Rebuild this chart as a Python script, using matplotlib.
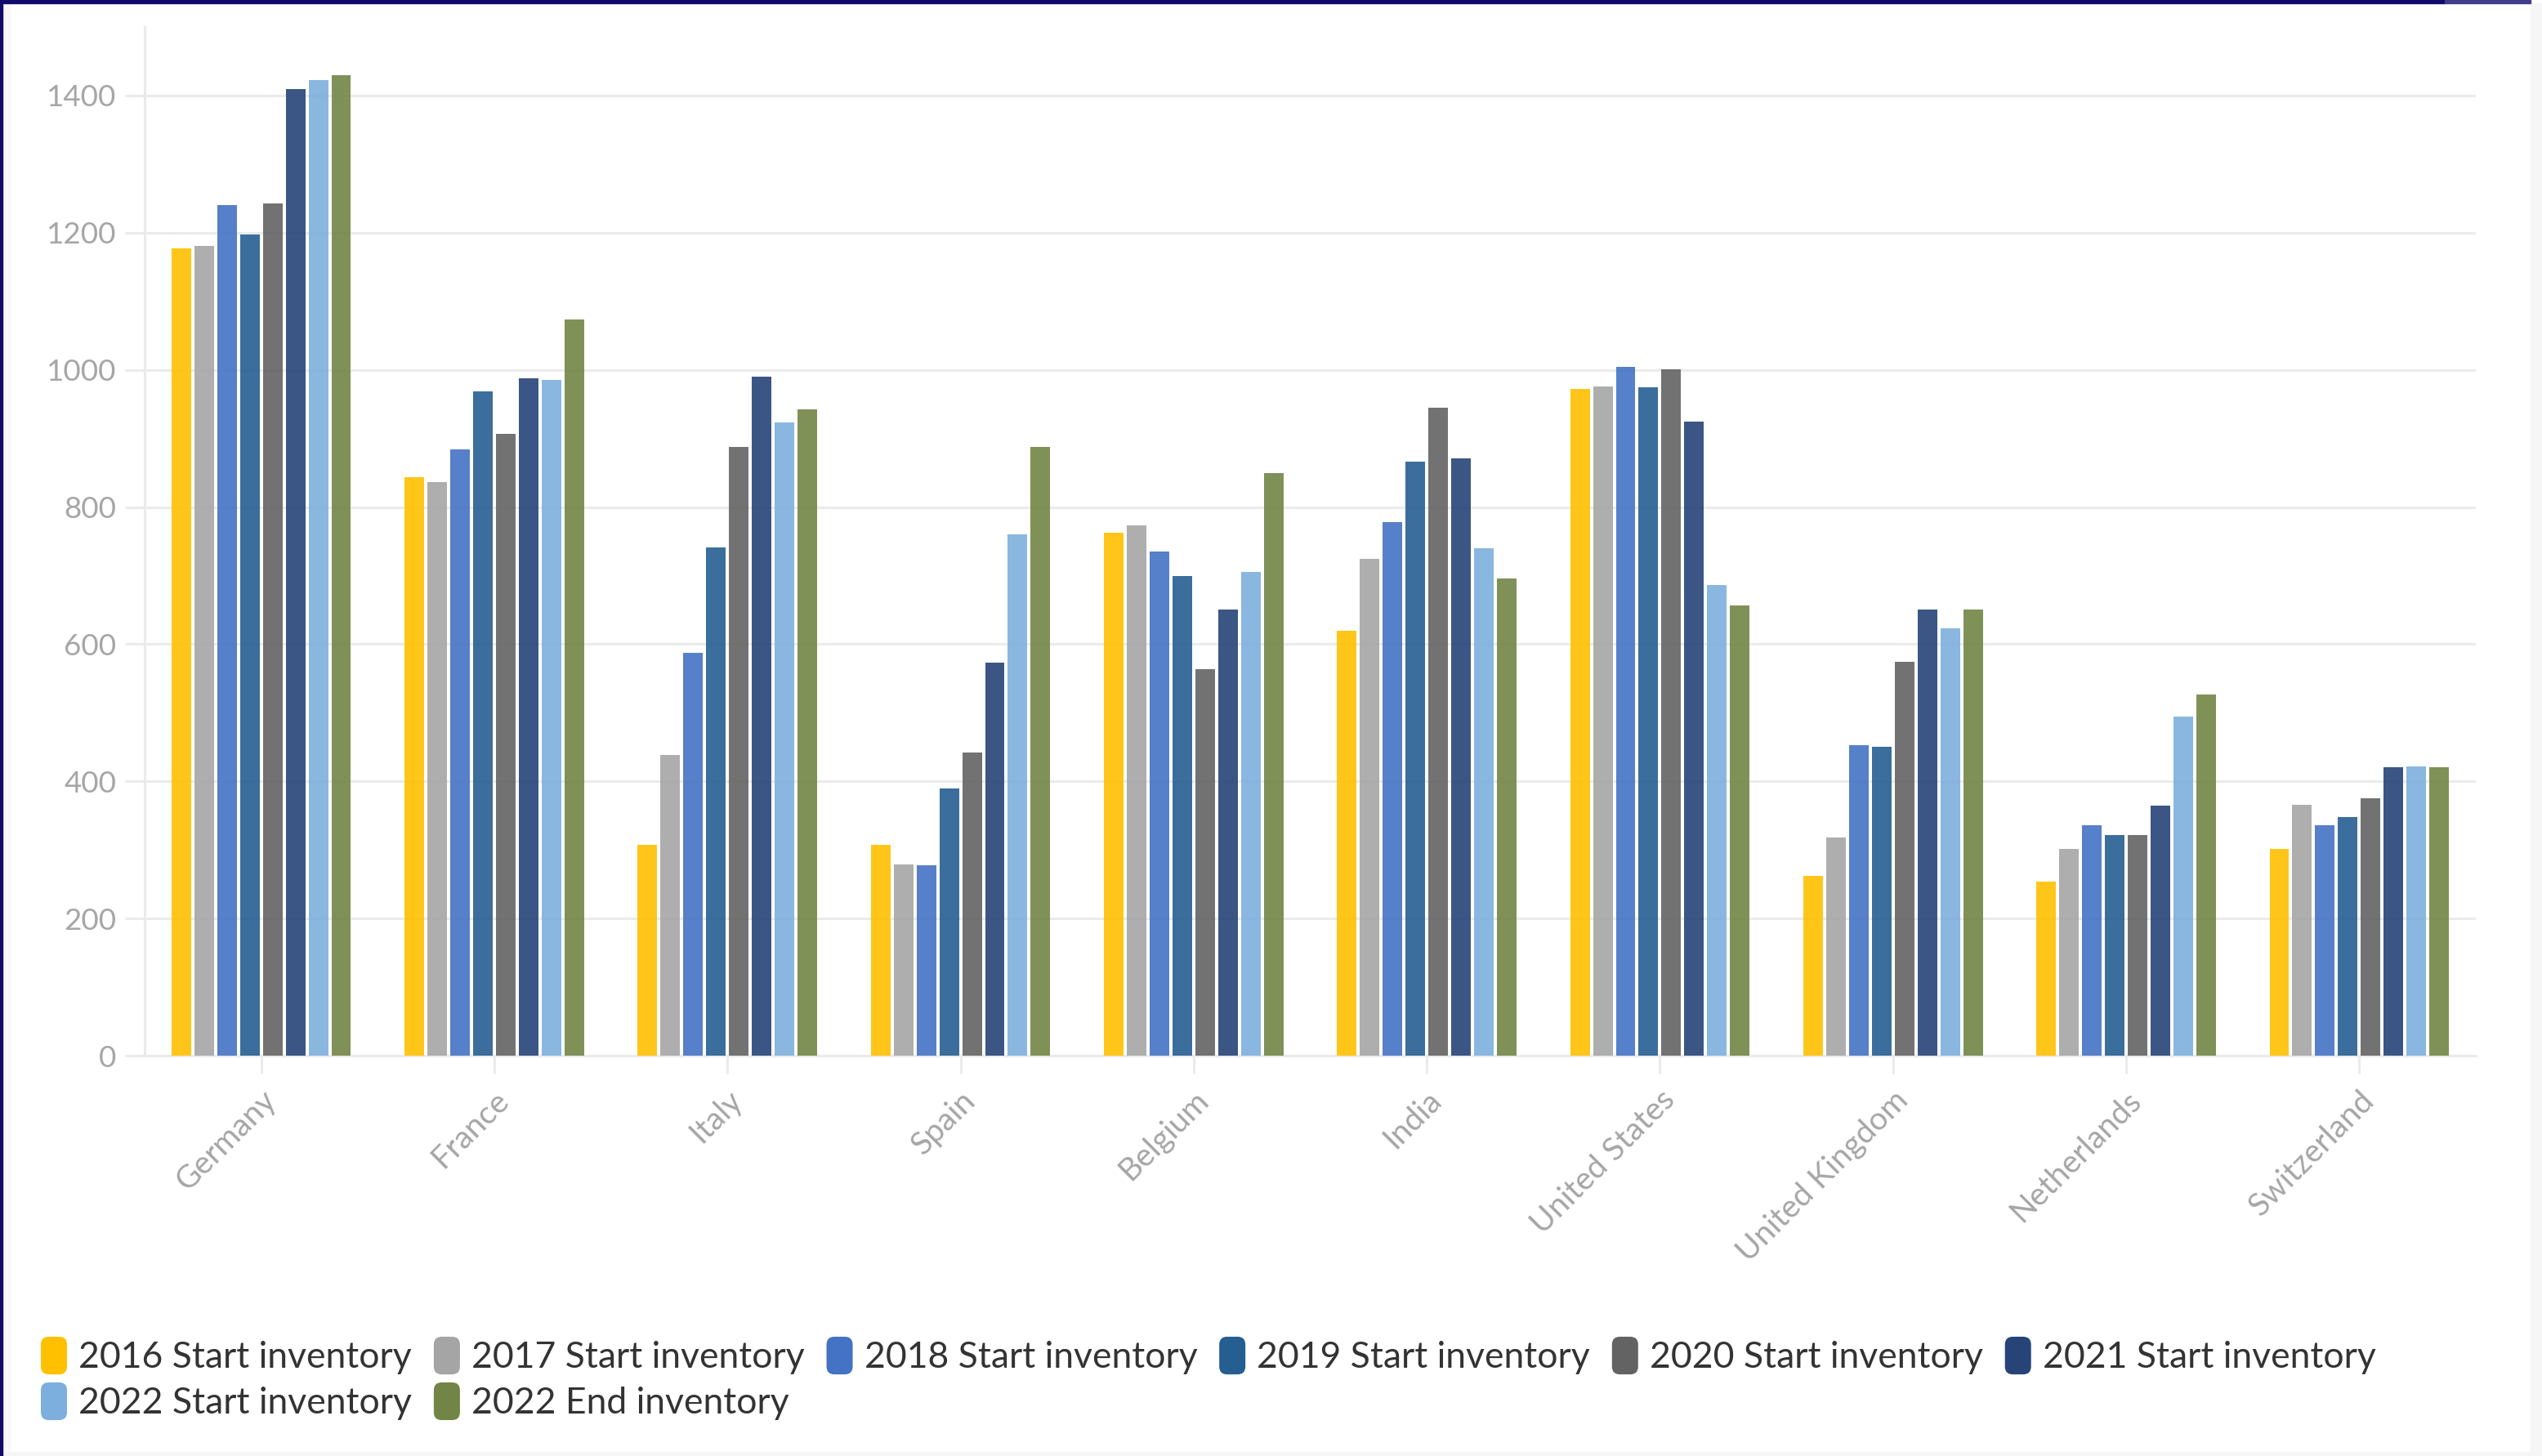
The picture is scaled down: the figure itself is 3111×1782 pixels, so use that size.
import numpy as np
import matplotlib
matplotlib.use('Agg')
from matplotlib import pyplot as plt
from matplotlib.patches import Patch, FancyBboxPatch, Rectangle
from matplotlib.legend_handler import HandlerPatch
import matplotlib.transforms as mtransforms

countries = ['Germany', 'France', 'Italy', 'Spain', 'Belgium', 'India',
             'United States', 'United Kingdom', 'Netherlands', 'Switzerland']

start_2016 = [1177, 843, 307, 307, 763, 620, 972, 262, 254, 302]
start_2017 = [1181, 836, 438, 279, 773, 724, 976, 318, 302, 366]
start_2018 = [1240, 884, 587, 278, 735, 778, 1004, 453, 336, 336]
start_2019 = [1197, 969, 741, 390, 699, 866, 974, 450, 322, 348]
start_2020 = [1243, 907, 888, 442, 563, 945, 1001, 574, 322, 375]
start_2021 = [1410, 988, 990, 573, 651, 871, 925, 650, 364, 421]
start_2022 = [1423, 985, 923, 760, 705, 740, 686, 623, 495, 422]
end_2022 = [1430, 1074, 942, 888, 850, 696, 657, 650, 527, 421]

series_names = ['2016 Start inventory', '2017 Start inventory', '2018 Start inventory',
                '2019 Start inventory', '2020 Start inventory', '2021 Start inventory',
                '2022 Start inventory', '2022 End inventory']
series_values = [start_2016, start_2017, start_2018, start_2019,
                 start_2020, start_2021, start_2022, end_2022]
colors = ['#FFC000', '#A5A5A5', '#4472C4', '#255E91',
          '#636363', '#264478', '#7CAFDD', '#728546']

plt.rcParams['font.family'] = ['Lato', 'DejaVu Sans']

W, H = 3111, 1782
fig = plt.figure(figsize=(W / 100, H / 100), dpi=100)
fig.patch.set_facecolor('white')

# page frame around the chart
fig.patches.append(Rectangle((0, 1 - 4 / H), 2992 / W, 4 / H, transform=fig.transFigure,
                             color='#100b6b', zorder=5))
fig.patches.append(Rectangle((2992 / W, 1 - 4 / H), 105 / W, 4 / H, transform=fig.transFigure,
                             color='#413d88', zorder=5))
fig.patches.append(Rectangle((0, 0), 3 / W, 1, transform=fig.transFigure,
                             color='#100b6b', zorder=5))
fig.patches.append(Rectangle((3 / W, 0), 10 / W, 1 - 4 / H, transform=fig.transFigure,
                             color='#f9f9f9', zorder=4))
fig.patches.append(Rectangle((3097 / W, 0), 14 / W, 1 - 4 / H, transform=fig.transFigure,
                             color='#f6f6f6', zorder=4))
fig.patches.append(Rectangle((0, 0), 1, 5 / H, transform=fig.transFigure,
                             color='#f6f6f6', zorder=4))

ax = fig.add_axes([177 / W, (H - 1292) / H, (3030 - 177) / W, (1292 - 33) / H])

x = np.arange(len(countries))
pitch = 0.098
width = 0.084
for i, (vals, c) in enumerate(zip(series_values, colors)):
    ax.bar(x + (i - 3.5) * pitch, vals, width, color=c, alpha=0.9, zorder=3)

grid_c = '#ebebeb'
ax.set_xlim(-0.5, len(countries) - 0.5)
ax.set_ylim(0, 1500)
ax.set_yticks(np.arange(0, 1401, 200))
ax.yaxis.grid(True, color=grid_c, linewidth=2.2)
ax.set_axisbelow(True)
for s in ['top', 'right']:
    ax.spines[s].set_visible(False)
for s in ['left', 'bottom']:
    ax.spines[s].set_color(grid_c)
    ax.spines[s].set_linewidth(2.2)

ax.tick_params(axis='y', length=17, width=2.2, color=grid_c, pad=8,
               labelsize=26.5, labelcolor='#a6a6a6')
ax.tick_params(axis='x', length=16, width=2.2, color=grid_c, pad=10,
               labelsize=28, labelcolor='#a6a6a6')
ax.set_xticks(x)
ax.set_xticklabels(countries, rotation=45, ha='right', va='top')
shift = mtransforms.ScaledTranslation(0.25, 0, fig.dpi_scale_trans)
for lab in ax.get_xticklabels():
    lab.set_transform(lab.get_transform() + shift)


def rounded_patch(legend, orig_handle, xdescent, ydescent, width, height, fontsize):
    return FancyBboxPatch((-xdescent, -ydescent), width, height,
                          boxstyle='round,pad=0,rounding_size=%f' % (width * 0.3))


# legend fills column by column; order entries so rows read 2016..2021, then 2022
order = [0, 6, 1, 7, 2, 3, 4, 5]
handles = [Patch(facecolor=colors[k]) for k in order]
labels = [series_names[k] for k in order]
fig.legend(handles, labels, loc='upper left',
           bbox_to_anchor=(50 / W, 1 - 1636 / H), ncol=6, frameon=False,
           fontsize=32, labelcolor='#333333', handlelength=0.72, handleheight=1.22,
           handletextpad=0.32, columnspacing=0.6, labelspacing=0.22,
           borderpad=0, borderaxespad=0,
           handler_map={Patch: HandlerPatch(patch_func=rounded_patch)})

fig.savefig('out.png', dpi=100)
